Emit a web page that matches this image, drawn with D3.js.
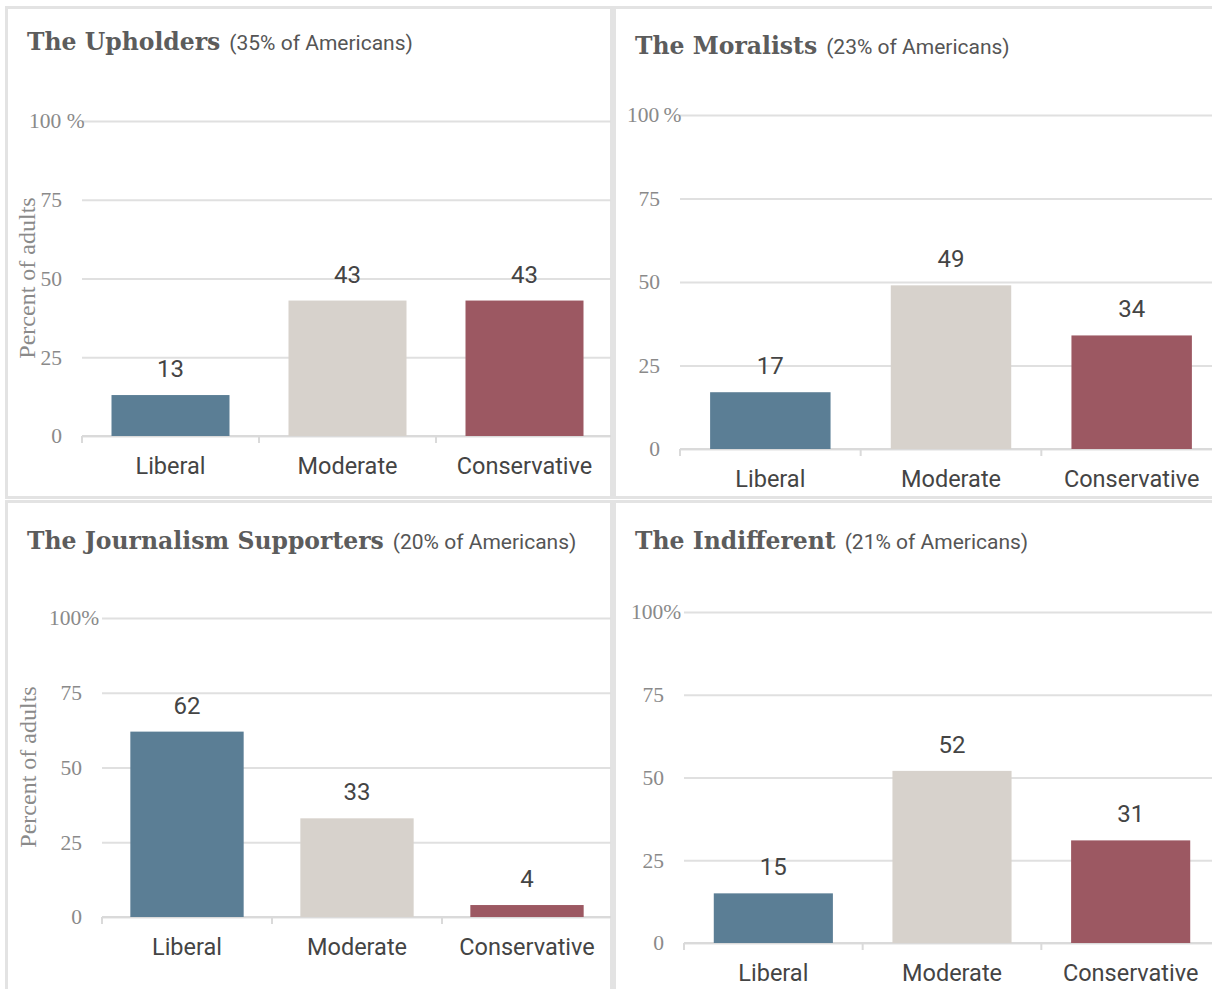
<!DOCTYPE html>
<html>
<head>
<meta charset="utf-8">
<script src="https://cdn.jsdelivr.net/npm/d3@7"></script>
<style>
  html, body { margin: 0; padding: 0; background: #fff; }
  svg { display: block; }
</style>
</head>
<body>
<svg id="chart" width="1212" height="989"></svg>
<script>
// data
var categories = ['Liberal', 'Moderate', 'Conservative'];
var groupNames = ['The Upholders', 'The Moralists', 'The Journalism Supporters', 'The Indifferent'];
var groupShares = [35, 23, 20, 21];
var upholders = [13, 43, 43];
var moralists = [17, 49, 34];
var supporters = [62, 33, 4];
var indifferent = [15, 52, 31];
var yTicks = [0, 25, 50, 75, 100];
var COLS = ['#5b7e95', '#d7d2cc', '#9c5862'];

var groupValues = [upholders, moralists, supporters, indifferent];

// where each panel sits on the page
var layout = [
    {bx: 6, by: 7, bw: 605, bh: 490, tx: 27, ty: 50, left: 82, right: 613, gridEnd: 611, top: 121, zero: 436, pct: ' %', yTitle: [27, 278]},
    {bx: 614, by: 7, bw: 605, bh: 490, tx: 635, ty: 54, left: 680, right: 1222, gridEnd: 1212, top: 115, zero: 449, pct: '\u2009%', yTitle: null},
    {bx: 6, by: 501, bw: 605, bh: 495, tx: 27, ty: 549, left: 102, right: 612, gridEnd: 611, top: 618, zero: 917, pct: '%', yTitle: [28, 767]},
    {bx: 614, by: 501, bw: 605, bh: 495, tx: 635, ty: 549, left: 684, right: 1220, gridEnd: 1212, top: 612, zero: 943, pct: '%', yTitle: null}
];

var svg = d3.select('#chart');

groupNames.forEach(function(name, gi) {
    var L = layout[gi],
        vals = groupValues[gi],
        g = svg.append('g').attr('class', 'panel');

    g.append('rect')
        .attr('x', L.bx + 0.5).attr('y', L.by + 0.5)
        .attr('width', L.bw).attr('height', L.bh)
        .attr('fill', '#fff')
        .attr('stroke', '#e3e3e3').attr('stroke-width', 3);

    var title = g.append('text')
        .attr('x', L.tx).attr('y', L.ty)
        .attr('fill', '#5c5c5c');
    title.append('tspan')
        .attr('font-family', 'DejaVu Serif')
        .attr('font-weight', 'bold')
        .attr('font-size', 23.5)
        .text(name);
    title.append('tspan')
        .attr('font-family', 'Roboto')
        .attr('font-size', 21)
        .attr('fill', '#555')
        .attr('dx', 9)
        .text('(' + groupShares[gi] + '% of Americans)');

    var x = d3.scaleBand().domain(categories)
        .range([L.left, L.right])
        .paddingInner(1 / 3).paddingOuter(1 / 6);
    var y = d3.scaleLinear().domain([0, 100]).range([L.zero, L.top]);

    // y axis with gridlines
    var yAxis = g.append('g')
        .attr('transform', 'translate(' + L.left + ',0)')
        .call(d3.axisLeft(y).tickValues(yTicks)
            .tickSize(-(L.gridEnd - L.left))
            .tickPadding(20));
    yAxis.select('.domain').remove();
    yAxis.selectAll('.tick line')
        .attr('stroke', '#e0e0e0').attr('stroke-width', 2);
    yAxis.selectAll('.tick text')
        .attr('font-family', 'Liberation Serif')
        .attr('font-size', 21.5)
        .attr('fill', '#8a8a8a');
    yAxis.selectAll('.tick').filter(function(d) { return d === 100; })
        .select('text')
        .attr('text-anchor', 'start')
        .attr('x', -20 - 33)
        .text('100')
        .append('tspan').text(L.pct);

    // baseline and band ticks
    var bounds = categories.map(function(c) {
        return x(c) - x.step() * x.paddingInner() / 2;
    });
    bounds.push(bounds[bounds.length - 1] + x.step());
    g.append('line')
        .attr('x1', L.left).attr('x2', L.gridEnd)
        .attr('y1', y(0)).attr('y2', y(0))
        .attr('stroke', '#dadada').attr('stroke-width', 2);
    g.selectAll('line.bt').data(bounds.filter(function(b) { return b <= L.gridEnd; }))
        .enter().append('line').attr('class', 'bt')
        .attr('x1', function(d) { return d; }).attr('x2', function(d) { return d; })
        .attr('y1', y(0)).attr('y2', y(0) + 7)
        .attr('stroke', '#dadada').attr('stroke-width', 2);

    // bars
    g.selectAll('rect.bar').data(vals)
        .enter().append('rect').attr('class', 'bar')
        .attr('x', function(d, i) { return x(categories[i]); })
        .attr('width', x.bandwidth())
        .attr('y', function(d) { return y(d); })
        .attr('height', function(d) { return y(0) - y(d); })
        .attr('fill', function(d, i) { return COLS[i % COLS.length]; });

    g.selectAll('text.val').data(vals)
        .enter().append('text').attr('class', 'val')
        .attr('x', function(d, i) { return x(categories[i]) + x.bandwidth() / 2; })
        .attr('y', function(d) { return y(d) - 18; })
        .attr('text-anchor', 'middle')
        .attr('font-family', 'Roboto')
        .attr('font-size', 24)
        .attr('fill', '#444')
        .text(function(d) { return d; });

    // category labels
    var xAxis = g.append('g')
        .attr('transform', 'translate(0,' + y(0) + ')')
        .call(d3.axisBottom(x).tickSize(0).tickPadding(21));
    xAxis.select('.domain').remove();
    xAxis.selectAll('.tick text')
        .attr('font-family', 'Roboto')
        .attr('font-size', 23.5)
        .attr('fill', '#444');

    if (L.yTitle) {
        g.append('text')
            .attr('transform', 'translate(' + L.yTitle[0] + ',' + L.yTitle[1] + ') rotate(-90)')
            .attr('dy', '0.35em')
            .attr('text-anchor', 'middle')
            .attr('font-family', 'Liberation Serif')
            .attr('font-size', 24)
            .attr('fill', '#8a8a8a')
            .text('Percent of adults');
    }
});
</script>
</body>
</html>
